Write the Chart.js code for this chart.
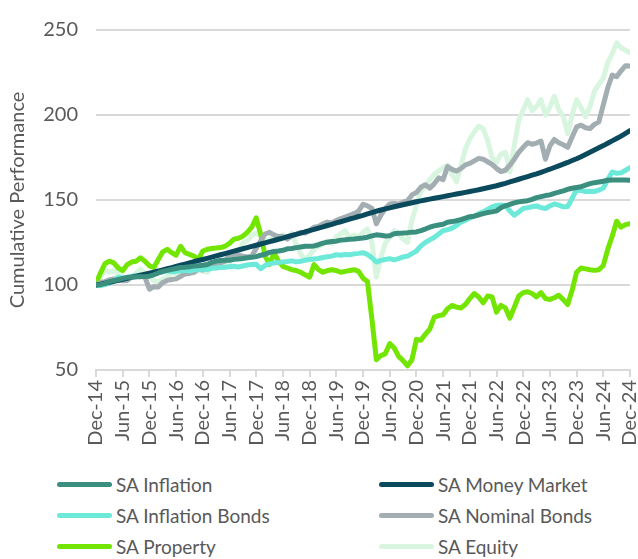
<!DOCTYPE html>
<html>
<head>
<meta charset="utf-8">
<script src="https://cdn.jsdelivr.net/npm/chart.js@4/dist/chart.umd.min.js"></script>
<style>
  body { margin: 0; background: #fff; font-family: Lato, "Open Sans", sans-serif; }
  #wrap { position: relative; width: 638px; height: 559px; }
  #perf-chart { position: absolute; left: 0; top: 0; }
  #legend {
    position: absolute; left: 57px; top: 469px;
    display: grid; grid-template-columns: 322px 250px;
  }
  .item { display: flex; align-items: center; height: 31px; color: #595959; font-size: 19px; white-space: nowrap; }
  .swatch { width: 55px; height: 5px; border-radius: 3px; margin-right: 4px; }
</style>
</head>
<body>
<div id="wrap">
  <canvas id="perf-chart" width="638" height="462"></canvas>
  <div id="legend"></div>
</div>
<script>
// tick labels every 6 months, Dec-14 .. Dec-24 (121 monthly points)
const tickLabels = ['Dec-14', 'Jun-15', 'Dec-15', 'Jun-16', 'Dec-16', 'Jun-17', 'Dec-17', 'Jun-18', 'Dec-18', 'Jun-19',
  'Dec-19', 'Jun-20', 'Dec-20', 'Jun-21', 'Dec-21', 'Jun-22', 'Dec-22', 'Jun-23', 'Dec-23', 'Jun-24', 'Dec-24'];

const seriesNames = ['SA Inflation', 'SA Money Market', 'SA Inflation Bonds', 'SA Nominal Bonds', 'SA Property', 'SA Equity'];

const inflation = [100,
  100.2, 100.8, 102.0, 102.6, 103.2, 103.9, 104.5, 104.6, 104.8, 104.9, 105.0, 105.2,
  106.0, 107.1, 108.0, 108.6, 109.2, 109.7, 110.3, 110.4, 110.7, 111.1, 111.3, 111.6,
  112.1, 113.3, 114.1, 114.4, 114.6, 114.6, 115.1, 115.3, 115.6, 116.0, 116.3, 116.7,
  117.5, 118.1, 119.2, 119.7, 120.0, 120.4, 121.3, 121.5, 122.0, 122.4, 122.8, 122.8,
  123.0, 123.7, 124.6, 125.2, 125.6, 125.8, 126.4, 126.6, 126.9, 127.1, 127.4, 127.6,
  128.1, 128.9, 129.5, 129.3, 128.8, 129.0, 130.2, 130.5, 130.6, 130.8, 131.1, 131.2,
  132.0, 132.9, 134.0, 134.8, 135.3, 135.7, 136.9, 137.3, 137.8, 138.5, 139.3, 140.2,
  140.5, 141.2, 142.0, 142.6, 143.0, 143.6, 145.5, 146.6, 147.4, 148.3, 148.9, 149.3,
  149.6, 150.4, 151.4, 152.0, 152.6, 153.0, 153.9, 154.6, 155.4, 156.3, 156.9, 157.4,
  157.8, 158.8, 159.6, 160.2, 160.6, 161.0, 161.6, 161.8, 161.8, 161.7, 161.7, 161.6];

const moneyMarket = [100,
  100.5, 101.1, 101.6, 102.2, 102.8, 103.4, 104.0, 104.6, 105.2, 105.8, 106.4, 107.0,
  107.6, 108.2, 108.9, 109.6, 110.2, 110.9, 111.6, 112.3, 113.0, 113.7, 114.4, 115.0,
  115.7, 116.4, 117.1, 117.8, 118.5, 119.2, 119.9, 120.6, 121.3, 122.0, 122.7, 123.4,
  124.1, 124.8, 125.5, 126.2, 126.9, 127.6, 128.4, 129.1, 129.8, 130.5, 131.3, 132.0,
  132.7, 133.5, 134.2, 135.0, 135.7, 136.5, 137.2, 138.0, 138.8, 139.5, 140.3, 141.0,
  141.8, 142.6, 143.4, 144.1, 144.8, 145.4, 146.0, 146.6, 147.2, 147.8, 148.4, 149.0,
  149.5, 150.0, 150.5, 151.0, 151.5, 152.0, 152.5, 153.0, 153.5, 154.0, 154.5, 155.0,
  155.5, 156.0, 156.6, 157.2, 157.8, 158.4, 159.1, 159.8, 160.6, 161.4, 162.2, 163.0,
  163.8, 164.6, 165.4, 166.3, 167.2, 168.1, 169.1, 170.1, 171.1, 172.1, 173.2, 174.3,
  175.5, 176.8, 178.1, 179.4, 180.7, 182.0, 183.4, 184.8, 186.2, 187.6, 189.2, 190.8];

const inflationBonds = [100,
  99.6, 100.2, 101.0, 102.3, 104.6, 104.0, 104.3, 105.0, 105.5, 105.2, 105.8, 106.5,
  106.8, 107.2, 107.6, 108.4, 107.8, 108.0, 108.4, 108.6, 108.2, 108.9, 109.2, 109.4,
  109.1, 109.8, 110.0, 110.3, 110.5, 110.8, 111.0, 110.6, 111.2, 111.8, 112.0, 112.2,
  109.6, 111.5, 112.4, 113.0, 113.3, 113.6, 113.8, 114.2, 113.6, 114.0, 114.6, 115.0,
  115.3, 115.6, 116.2, 116.6, 117.0, 117.8, 117.5, 118.0, 117.8, 118.3, 118.6, 119.0,
  118.0, 116.0, 113.5, 114.5, 115.0, 115.5, 114.8, 115.5, 116.5, 117.0, 118.5, 120.0,
  123.0, 125.0, 126.5, 128.0, 130.0, 132.0, 132.5, 133.5, 135.0, 137.0, 138.0, 139.5,
  140.5, 142.0, 143.0, 144.5, 146.0, 146.8, 147.0, 146.8, 143.5, 141.0, 143.0, 145.0,
  145.5, 146.0, 146.5, 145.5, 145.0, 146.5, 147.7, 147.0, 146.0, 146.2, 151.0, 156.0,
  155.5, 155.0, 155.2, 155.0, 155.8, 157.0, 162.0, 166.5, 165.7, 166.0, 167.5, 169.0];

const nominalBonds = [100,
  101.5, 102.0, 103.0, 103.6, 102.8, 102.5, 102.7, 104.6, 104.8, 105.5, 104.6, 97.5,
  99.0, 98.8, 101.5, 102.7, 103.2, 103.6, 105.0, 106.5, 106.8, 107.5, 109.4, 108.8,
  111.3, 111.5, 112.3, 113.0, 114.0, 117.5, 118.5, 117.5, 117.0, 116.5, 117.0, 121.5,
  126.0, 130.0, 131.0, 129.5, 128.5, 128.5, 127.0, 129.0, 130.0, 131.0, 130.5, 132.0,
  134.0, 134.5, 136.0, 137.0, 136.5, 138.0, 139.0, 140.0, 141.0, 142.0, 143.5, 147.5,
  146.5, 145.0, 136.0, 141.0, 145.0, 147.7, 148.0, 147.5, 148.7, 149.5, 153.0, 154.4,
  157.5, 159.0, 157.0, 159.5, 163.0, 162.0, 169.7, 168.0, 167.0, 168.5, 170.7, 171.5,
  173.0, 174.5, 174.0, 172.5, 171.0, 168.6, 166.7, 167.5, 170.5, 174.0, 178.0, 181.0,
  183.7, 182.8, 183.5, 184.7, 174.0, 181.8, 185.6, 183.7, 182.5, 181.0, 187.0, 193.0,
  194.0, 192.5, 192.0, 194.5, 196.0, 206.0, 216.0, 223.5, 222.5, 226.0, 229.0, 228.8];

const property = [101,
  107, 112.5, 114, 113, 110, 108.4, 112, 113.5, 114, 116, 114, 111.3,
  110.3, 115, 119.5, 121, 119, 117.5, 122.8, 119, 118, 117, 115, 120,
  121, 121.5, 121.8, 122, 122.8, 124.5, 127, 127.5, 128.7, 131, 134, 139.5,
  130, 117, 112, 119, 114, 111, 110, 109, 108.5, 107.5, 106, 104.6,
  112, 109, 107.5, 108.5, 109, 108.5, 107.5, 108, 108.5, 109, 108, 104,
  102, 80, 56, 58.5, 59.5, 65.5, 63, 58, 55.5, 52.5, 56, 68,
  67.5, 71, 74, 81, 82, 82.5, 86, 88, 87, 86.5, 88.5, 92,
  95, 93, 89.5, 93.5, 93, 84, 88, 86.5, 80.5, 87, 93.5, 95.5,
  96, 95, 93, 95.5, 92, 91.5, 92.5, 94, 91.4, 88.5, 97, 107.5,
  110, 109.5, 109, 108.6, 109, 111.5, 121, 128.7, 137.5, 134, 135.5, 136];

const equity = [100,
  104.5, 109.0, 107.5, 108.5, 106.5, 105.0, 103.6, 104.6, 107.0, 109.4, 106.5, 105.0,
  102.5, 101.7, 103.5, 104.6, 107.5, 106.5, 106.5, 108.0, 108.4, 107.0, 108.4, 108.0,
  107.5, 110.3, 110.0, 111.3, 112.0, 113.0, 117.0, 119.5, 124.7, 126.0, 129.0, 130.5,
  129.0, 126.0, 126.6, 128.5, 127.5, 129.5, 127.5, 130.5, 124.0, 118.0, 115.0, 117.5,
  121.0, 122.8, 124.0, 126.0, 124.5, 128.5, 130.0, 132.0, 127.5, 129.5, 128.0, 131.0,
  133.0, 125.0, 104.6, 116.0, 124.6, 128.0, 132.0, 130.0, 127.0, 125.0, 138.0, 147.0,
  155.0, 158.0, 162.0, 165.0, 167.0, 169.0, 170.5, 165.0, 160.7, 170.0, 180.0, 186.0,
  190.0, 193.4, 192.0, 185.0, 175.0, 172.0, 177.0, 178.0, 166.7, 182.0, 197.0, 203.0,
  209.0, 202.6, 205.0, 209.0, 200.0, 204.5, 211.0, 203.0, 199.0, 189.0, 200.0, 209.0,
  204.5, 199.0, 205.0, 214.0, 218.0, 221.6, 231.0, 236.0, 242.4, 239.6, 238.0, 236.7];

const seriesValues = [inflation, moneyMarket, inflationBonds, nominalBonds, property, equity];
const seriesColors = ['#3b8f7f', '#0a4a5c', '#6de9d9', '#a2aeb2', '#72e600', '#d8f5e0'];

const textColor = '#595959';
const gridColor = '#d9d9d9';
const font = { family: 'Lato', size: 20 };

const datasets = seriesValues.map((vals, i) => ({
    label: seriesNames[i],
    data: vals.map((v, m) => ({ x: m, y: v })),
    borderColor: seriesColors[i],
    borderWidth: 5,
    pointRadius: 0,
    tension: 0,
    borderJoinStyle: 'round',
    borderCapStyle: 'round',
    fill: false
}));

const ctx = document.getElementById('perf-chart').getContext('2d');
new Chart(ctx, {
    type: 'line',
    data: { datasets },
    options: {
        responsive: false,
        animation: false,
        layout: { padding: { top: 21, right: 8, left: 0, bottom: 0 } },
        plugins: { legend: { display: false }, tooltip: { enabled: false } },
        scales: {
            x: {
                type: 'linear',
                min: 0,
                max: 120,
                afterFit: (scale) => {
                    scale.height = 92;
                    scale.paddingLeft = 0;
                    scale.paddingRight = 0;
                },
                ticks: {
                    stepSize: 6,
                    autoSkip: false,
                    minRotation: 90,
                    maxRotation: 90,
                    color: textColor,
                    font,
                    padding: 3,
                    callback: (v) => tickLabels[v / 6]
                },
                grid: { drawOnChartArea: false, color: gridColor, lineWidth: 2, tickLength: 7 },
                border: { color: gridColor, width: 2 }
            },
            y: {
                min: 50,
                max: 250,
                afterFit: (scale) => { scale.width = 96; },
                ticks: { stepSize: 50, color: textColor, font, padding: 18 },
                grid: { color: gridColor, lineWidth: 2, drawTicks: false },
                border: { display: false },
                title: {
                    display: true,
                    text: 'Cumulative Performance',
                    color: textColor,
                    font,
                    padding: { top: 6, bottom: 0 }
                }
            }
        }
    }
});

// legend: two columns, same order as the reference
const legendEl = document.getElementById('legend');
seriesNames.forEach((name, i) => {
    const item = document.createElement('div');
    item.className = 'item';
    item.innerHTML = `<span class="swatch" style="background:${seriesColors[i]}"></span>${name}`;
    legendEl.appendChild(item);
});
</script>
</body>
</html>
